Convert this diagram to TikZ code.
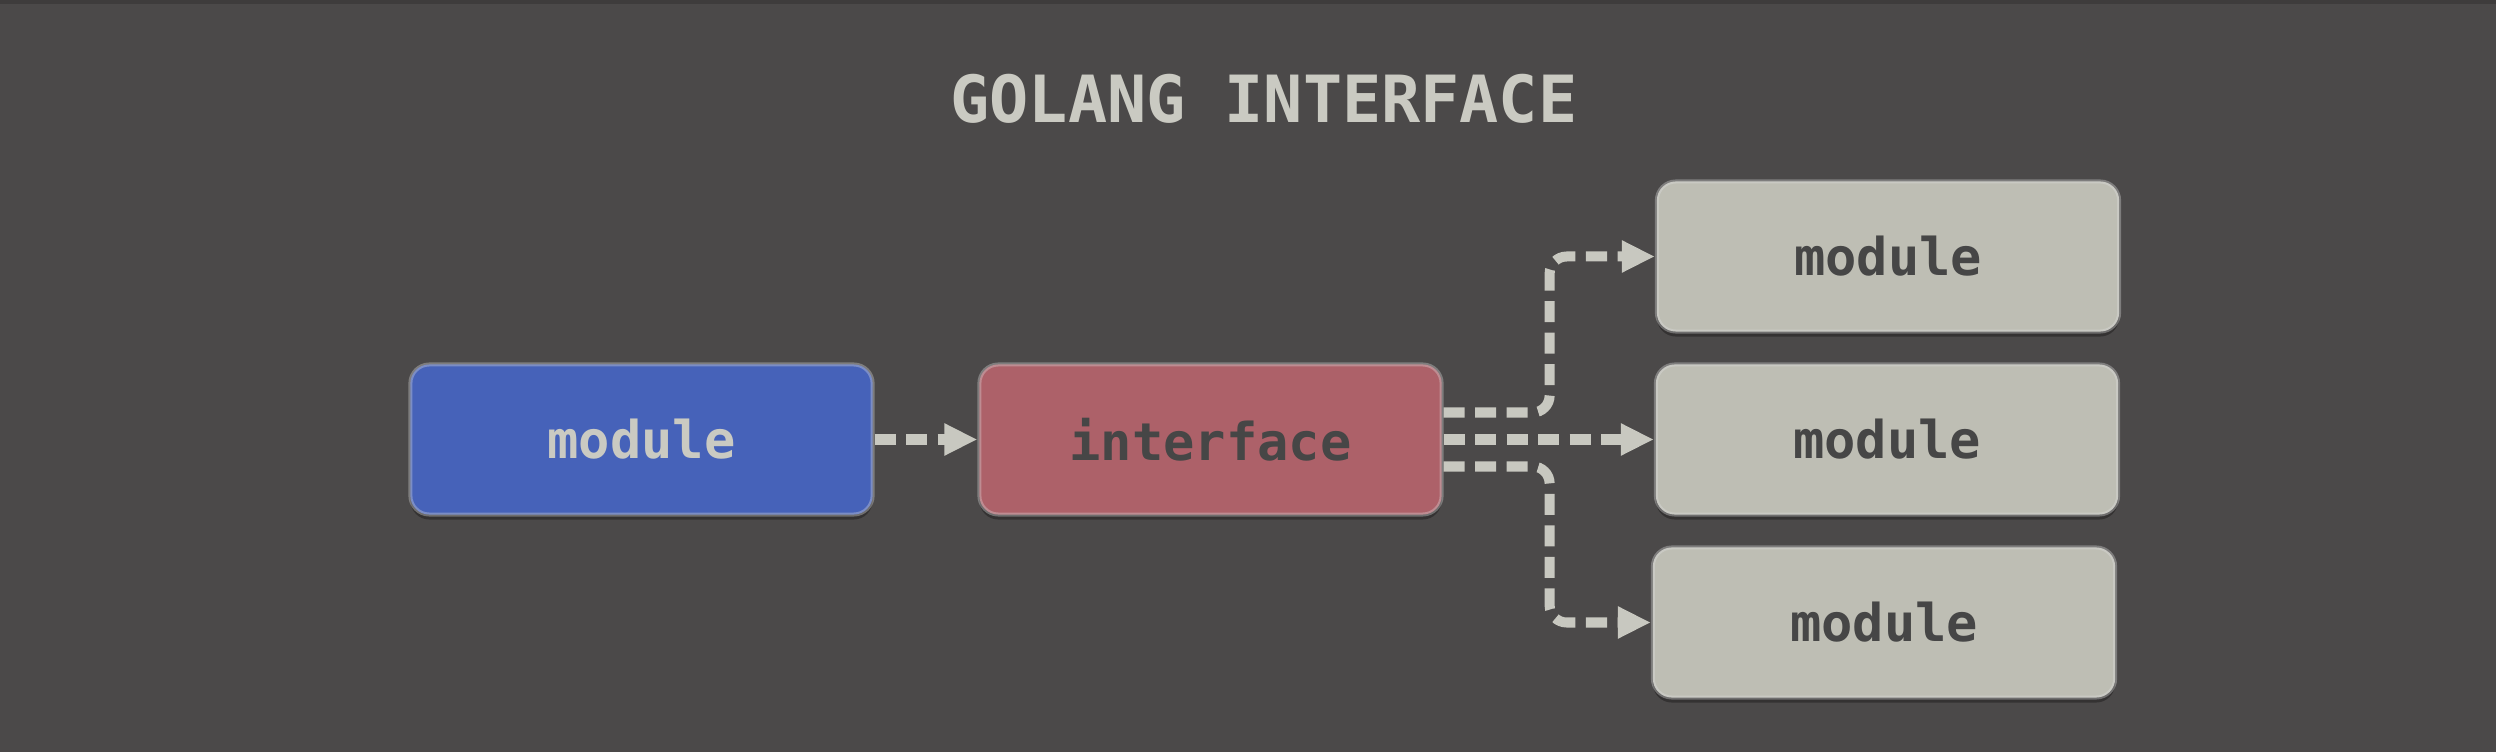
\documentclass[tikz,border=0pt]{standalone}
\usepackage{fontspec}
\newfontfamily\dmono{DejaVu Sans Mono}
\newfontfamily\dmonob{DejaVu Sans Mono Bold}
\usetikzlibrary{arrows.meta,shadows,calc}
\definecolor{bg}{HTML}{4B4949}
\definecolor{topline}{HTML}{3E3C3C}
\definecolor{bluebox}{HTML}{4662B9}
\definecolor{redbox}{HTML}{AD6169}
\definecolor{greybox}{HTML}{BEBEB4}
\definecolor{lighttext}{HTML}{CACAC2}
\definecolor{darktext}{HTML}{464646}
\definecolor{arrowc}{HTML}{C8C8C0}
\tikzset{
  box/.style={rounded corners=0.19cm, minimum width=4.62cm, minimum height=1.5cm,
    inner sep=0pt, font=\dmonob\fontsize{14.8}{16}\selectfont,
    draw=white!75!gray, draw opacity=0.35, line width=0.04cm,
    drop shadow={shadow xshift=0cm, shadow yshift=-0.05cm, opacity=0.3, fill=black}},
  conn/.style={draw=arrowc, line width=0.1cm, dash pattern=on 0.21cm off 0.105cm,
    -{Triangle[length=0.33cm,width=0.3cm]}},
  branch/.style={conn, rounded corners=0.17cm},
  title/.style={font=\dmonob\fontsize{18.5}{20}\selectfont, text=lighttext}
}
\begin{document}
\begin{tikzpicture}[x=0.01cm,y=-0.01cm]
\fill[bg] (0,0) rectangle (2496,752);
\useasboundingbox (0,0) rectangle (2496,752);
\fill[topline] (0,0) rectangle (2496,4);

\node[title] (t) at (1264,99) {GOLANG INTERFACE};

\node[box, fill=bluebox, text=lighttext] (b) at (641.5,439.5) {module};
\node[box, fill=redbox, text=darktext] (r) at (1210.5,439.5) {interface};
\node[box, fill=greybox, text=darktext] (m1) at (1888,256.5) {module};
\node[box, fill=greybox, text=darktext] (m2) at (1887,439.5) {module};
\node[box, fill=greybox, text=darktext] (m3) at (1884,622.5) {module};

\draw[conn] (b.east) -- (r.west);
\draw[conn] (r.east) -- (m2.west);
\coordinate (rt) at ($(r.east)+(0,-27)$);
\coordinate (rb) at ($(r.east)+(0,27)$);
\draw[branch] (rt) -- ++(106,0) |- (m1.west);
\draw[branch] (rb) -- ++(106,0) |- (m3.west);
\end{tikzpicture}
\end{document}
